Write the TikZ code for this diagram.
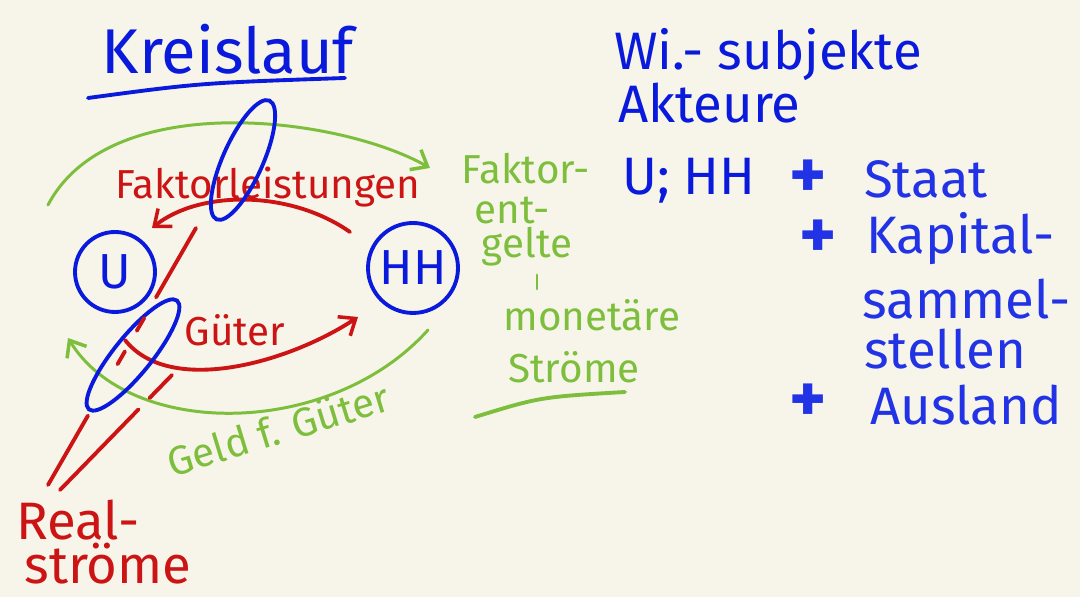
\documentclass[tikz,border=0pt]{standalone}
\usepackage{fontspec}
\setmainfont{Fira Sans}
\usetikzlibrary{arrows.meta,shapes.geometric,calc}
\definecolor{papier}{HTML}{F7F5EA}
\definecolor{kblau}{HTML}{0A1ADC}
\definecolor{hblau}{HTML}{2233E6}
\definecolor{krot}{HTML}{CC1414}
\definecolor{kgruen}{HTML}{7DBF3C}

\begin{document}
\begin{tikzpicture}[x=0.02cm,y=0.02cm,
    stift/.style={line width=2.2pt,line cap=round},
    duenn/.style={line width=1.7pt,line cap=round},
    pfeil/.style={-{Straight Barb[length=8pt,width=13pt,line width=2pt]}},
    kreis/.style={draw=kblau,stift,circle,inner sep=0pt,text=kblau,font=\fontsize{28}{30}\selectfont},
    schnitt/.style={draw=kblau,stift,ellipse,inner sep=0pt},
    gross/.style={font=\fontsize{30}{34}\selectfont},
    plus/.style={hblau,font=\fontsize{40}{44}\selectfont\bfseries},
    mittel/.style={font=\fontsize{23}{27}\selectfont}]
				\useasboundingbox (0,0) rectangle (1080,597);
				\fill[papier] (0,0) rectangle (1080,597);
				\node[kblau,font=\fontsize{36}{40}\selectfont] (titel) at (228,548) {Kreislauf};
				\draw[kblau,stift] (88,499) .. controls (200,514) .. (345,519);
				\node[kreis,minimum size=1.6cm] (u) at (115,325) {U};
				\node[kreis,minimum size=1.8cm] (hh) at (413,329) {HH};
				\coordinate (fg-a) at (48,392);
				\coordinate (fg-b) at (430,429);
				\draw[kgruen,duenn,pfeil] (fg-a) .. controls (110,510) and (340,480) .. (fg-b);
				\coordinate (fl-a) at (350,365);
				\coordinate (fl-b) at (152,369);
				\draw[krot,stift,pfeil] (fl-a) .. controls (290,407) and (200,407) .. (fl-b);
				\node[krot,mittel] (fl) at (268,410) {Faktorleistungen};
				\node[schnitt,minimum width=2.6cm,minimum height=0.8cm,rotate=66] (schnittF) at (243,437) {};
				\coordinate (gu-a) at (125,257);
				\coordinate (gu-b) at (358,280);
				\draw[krot,stift,pfeil] (gu-a) .. controls (170,200) and (290,235) .. (gu-b);
				\node[krot,mittel] (gueter) at (235,267) {Güter};
				\coordinate (gg-a) at (428,267);
				\coordinate (gg-b) at (68,259);
				\draw[kgruen,duenn,pfeil] (gg-a) .. controls (330,158) and (130,158) .. (gg-b);
				\node[kgruen,mittel,rotate=17] (geld) at (278,168) {Geld f. Güter};
				\node[schnitt,minimum width=2.8cm,minimum height=0.75cm,rotate=51] (schnittG) at (133,242) {};
				\node[kgruen,mittel] (fe1) at (526,428) {Faktor-};
				\node[kgruen,mittel] (fe2) at (512,387) {ent-};
				\node[kgruen,mittel] (fe3) at (527,350) {gelte};
				\coordinate (st-a) at (537,322);
				\coordinate (st-b) at (537,308);
				\draw[kgruen,duenn] (st-a) -- (st-b);
				\node[kgruen,mittel] (mon1) at (592,282) {monetäre};
				\node[kgruen,mittel] (mon2) at (574,230) {Ströme};
				\draw[kgruen,stift] (475,180) .. controls (540,200) .. (625,205);
				\node[krot,gross] (real1) at (78,77) {Real-};
				\node[krot,gross] (real2) at (108,33) {ströme};
				\coordinate (rs1) at (48,112);
				\coordinate (rs2) at (60,107);
				\coordinate (rz1) at (196,369);
				\coordinate (rz2) at (172,222);
				\draw[krot,stift] (rs1) -- ($(rs1)!0.27!(rz1)$);
				\draw[krot,stift] ($(rs1)!0.47!(rz1)$) -- ($(rs1)!0.52!(rz1)$);
				\draw[krot,stift] ($(rs1)!0.6!(rz1)$) -- ($(rs1)!0.65!(rz1)$);
				\draw[krot,stift] ($(rs1)!0.73!(rz1)$) -- (rz1);
				\draw[krot,stift] (rs2) -- ($(rs2)!0.7!(rz2)$);
				\draw[krot,stift] ($(rs2)!0.8!(rz2)$) -- (rz2);
				\node[kblau,gross,anchor=west] (wi) at (608,542) {Wi.- subjekte};
				\node[kblau,gross,anchor=west] (akt) at (612,494) {Akteure};
				\node[kblau,gross,anchor=west] (uhh) at (616,416) {U; HH};
				\node[plus] (p1) at (808,418) {+};
				\node[hblau,gross,anchor=west] (staat) at (858,418) {Staat};
				\node[plus] (p2) at (818,358) {+};
				\node[hblau,gross,anchor=west] (kap) at (860,358) {Kapital-};
				\node[hblau,gross,anchor=west] (samm) at (856,298) {sammel-};
				\node[hblau,gross,anchor=west] (stell) at (858,248) {stellen};
				\node[plus] (p3) at (808,194) {+};
				\node[hblau,gross,anchor=west] (ausl) at (864,192) {Ausland};
			\end{tikzpicture}
\end{document}
